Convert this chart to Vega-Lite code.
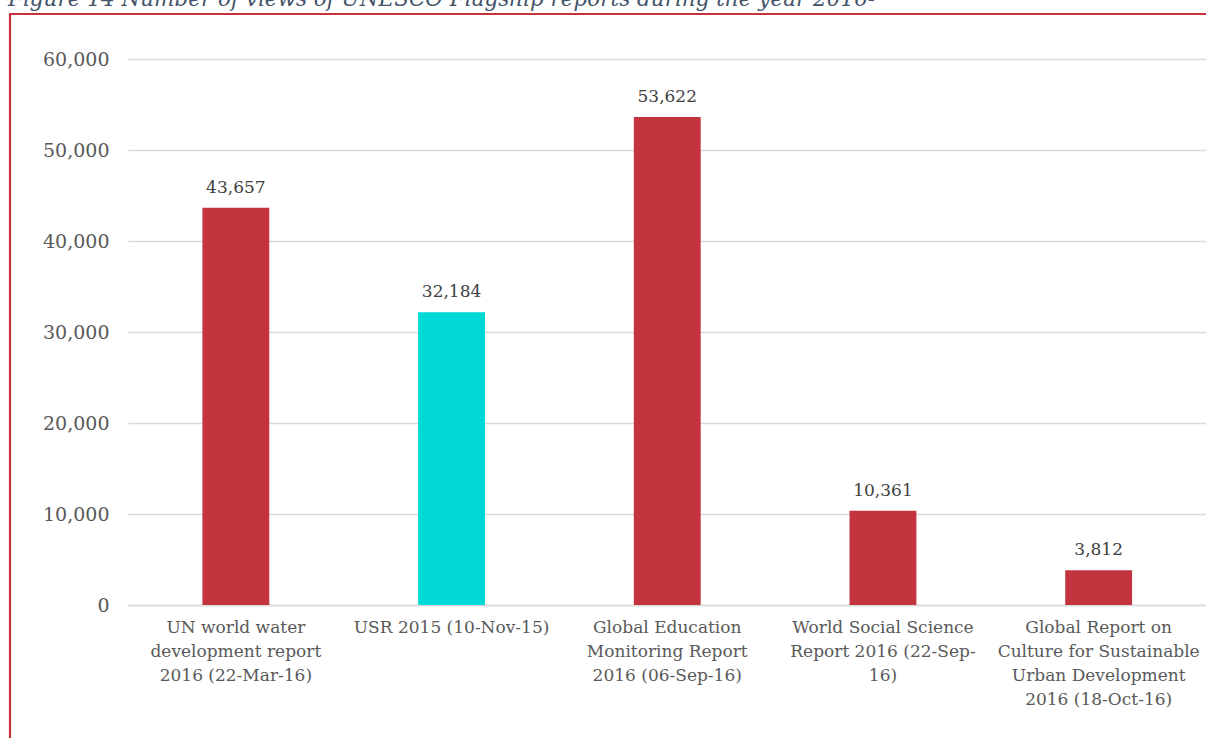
{
  "$schema": "https://vega.github.io/schema/vega-lite/v6.json",
  "autosize": {"type": "none"},
  "padding": {"left": 10, "top": 14, "right": -10, "bottom": -10},
  "width": 1206,
  "height": 734,
  "background": "white",
  "title": {
    "text": "Figure 14  Number of views of UNESCO Flagship reports during the year 2016-⁷",
    "anchor": "start",
    "frame": "group",
    "orient": "top",
    "baseline": "alphabetic",
    "offset": 6,
    "dx": -2,
    "dy": 19,
    "font": "DejaVu Serif",
    "fontStyle": "italic",
    "fontWeight": "normal",
    "fontSize": 21.5,
    "color": "#44546A"
  },
  "data": {
    "values": [
      {"report": "UN world water development report 2016 (22-Mar-16)", "views": 43657, "group": "a"},
      {"report": "USR 2015 (10-Nov-15)", "views": 32184, "group": "b"},
      {"report": "Global Education Monitoring Report 2016 (06-Sep-16)", "views": 53622, "group": "a"},
      {"report": "World Social Science Report 2016 (22-Sep-16)", "views": 10361, "group": "a"},
      {"report": "Global Report on Culture for Sustainable Urban Development 2016 (18-Oct-16)", "views": 3812, "group": "a"}
    ]
  },
  "encoding": {
    "x": {
      "field": "report",
      "type": "nominal",
      "sort": null,
      "scale": {"range": [118, 1196.5], "paddingInner": 0.69, "paddingOuter": 0.345},
      "axis": {
        "title": null,
        "orient": "bottom",
        "offset": -143,
        "ticks": false,
        "domain": true,
        "domainColor": "#D9D9D9",
        "domainWidth": 1.6,
        "grid": false,
        "labelAngle": 0,
        "labelFont": "DejaVu Serif",
        "labelFontSize": 17,
        "labelColor": "#595959",
        "labelPadding": 14,
        "labelLineHeight": 24,
        "labelLimit": 0,
        "labelBaseline": "top",
        "labelExpr": "datum.value == 'UN world water development report 2016 (22-Mar-16)' ? ['UN world water', 'development  report', '2016 (22-Mar-16)'] : datum.value == 'Global Education Monitoring Report 2016 (06-Sep-16)' ? ['Global Education', 'Monitoring Report', '2016 (06-Sep-16)'] : datum.value == 'World Social Science Report 2016 (22-Sep-16)' ? ['World Social Science', 'Report  2016 (22-Sep-', '16)'] : datum.value == 'Global Report on Culture for Sustainable Urban Development 2016 (18-Oct-16)' ? ['Global Report on', 'Culture for Sustainable', 'Urban Development', '2016 (18-Oct-16)'] : datum.value"
      }
    },
    "y": {
      "field": "views",
      "type": "quantitative",
      "scale": {"domain": [0, 60000], "range": [591, 45], "nice": false, "zero": true},
      "axis": {
        "title": null,
        "orient": "left",
        "offset": -118,
        "values": [0, 10000, 20000, 30000, 40000, 50000, 60000],
        "labelExpr": "format(datum.value, ',')",
        "ticks": false,
        "domain": false,
        "grid": true,
        "gridColor": "#D9D9D9",
        "gridWidth": 1.3,
        "labelFont": "DejaVu Serif",
        "labelFontSize": 19,
        "labelColor": "#595959",
        "labelPadding": 19
      }
    }
  },
  "layer": [
    {
      "mark": {"type": "bar"},
      "encoding": {
        "color": {
          "field": "group",
          "type": "nominal",
          "scale": {"domain": ["a", "b"], "range": ["#C3343F", "#00D9D5"]},
          "legend": null
        }
      }
    },
    {
      "mark": {"type": "text", "baseline": "alphabetic", "dy": -15, "font": "DejaVu Serif", "fontSize": 17, "color": "#404040"},
      "encoding": {
        "text": {"field": "views", "type": "quantitative", "format": ","}
      }
    }
  ],
  "config": {
    "view": {"stroke": "#C8323C", "strokeWidth": 2.2}
  }
}
